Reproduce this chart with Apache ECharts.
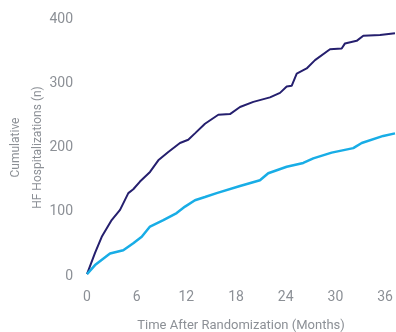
<!DOCTYPE html>
<html>
<head>
<meta charset="utf-8">
<script src="https://cdn.jsdelivr.net/npm/echarts@6/dist/echarts.min.js"></script>
<style>
  html, body { margin: 0; padding: 0; background: #fff; }
  #chart { width: 396px; height: 332px; }
</style>
</head>
<body>
<div id="chart"></div>
<script>
// months after randomization, cumulative HF hospitalizations
var darkMonths = [0, 0.97, 1.78, 2.98, 3.99, 4.99, 5.59, 6.4, 7.61, 8.61, 9.82, 11.23, 12.23, 13.04, 14.25, 15.86, 17.27, 18.48, 20.09, 22.1, 23.31, 24.12, 24.72, 25.33, 26.53, 27.54, 29.35, 30.76, 31.16, 32.57, 33.37, 35.39, 37.2]
var darkValues = [3, 36, 61, 87, 103, 129, 135, 147, 162, 180, 193, 207, 212, 222, 237, 251, 252, 263, 271, 278, 285, 295, 296, 315, 323, 336, 353, 354, 362, 366, 374, 375, 378]

var lightMonths = [0, 0.97, 2.78, 4.38, 5.59, 6.61, 7.61, 9.22, 10.83, 11.84, 13.04, 14.25, 15.66, 18.48, 20.89, 21.89, 24.12, 26.12, 27.33, 29.55, 32.16, 33.18, 35.78, 37.2]
var lightValues = [3, 17, 35, 40, 51, 61, 77, 87, 98, 108, 118, 123, 129, 140, 149, 160, 170, 176, 183, 192, 199, 207, 218, 222]

var xTicks = [0, 6, 12, 18, 24, 30, 36]
var yTicks = [0, 100, 200, 300, 400]

function pairs(xs, ys) {
  return xs.map(function (x, i) { return [x, ys[i]] })
}

var grey = '#8c9096'
var font = 'Roboto'

var chart = echarts.init(document.getElementById('chart'))
chart.setOption({
  animation: false,
  grid: { left: 87, right: 1, top: 19, bottom: 56, containLabel: false, outerBoundsMode: 'none' },
  xAxis: {
    type: 'value',
    min: 0,
    max: 37.2,
    interval: 6,
    name: 'Time After Randomization (Months)',
    nameLocation: 'middle',
    nameGap: 43,
    nameMoveOverlap: false,
    nameTextStyle: { color: grey, fontSize: 13, fontFamily: font },
    axisLine: { show: false },
    axisTick: { show: false },
    splitLine: { show: false },
    axisLabel: {
      color: grey,
      fontSize: 14,
      fontFamily: font,
      margin: 14,
      formatter: function (v) { return xTicks.indexOf(v) >= 0 ? String(v) : '' }
    }
  },
  yAxis: {
    type: 'value',
    min: yTicks[0],
    max: yTicks[yTicks.length - 1],
    interval: 100,
    name: 'Cumulative\nHF Hospitalizations (n)',
    nameLocation: 'middle',
    nameGap: 38,
    nameMoveOverlap: false,
    nameTextStyle: { color: grey, fontSize: 12, fontFamily: font, lineHeight: 22 },
    axisLine: { show: false },
    axisTick: { show: false },
    splitLine: { show: false },
    axisLabel: { color: grey, fontSize: 14, fontFamily: font, margin: 14 }
  },
  series: [
    {
      type: 'line',
      data: pairs(darkMonths, darkValues),
      showSymbol: false,
      lineStyle: { color: '#251f6e', width: 2 }
    },
    {
      type: 'line',
      data: pairs(lightMonths, lightValues),
      showSymbol: false,
      lineStyle: { color: '#18ade6', width: 2.5 }
    }
  ]
})
</script>
</body>
</html>
